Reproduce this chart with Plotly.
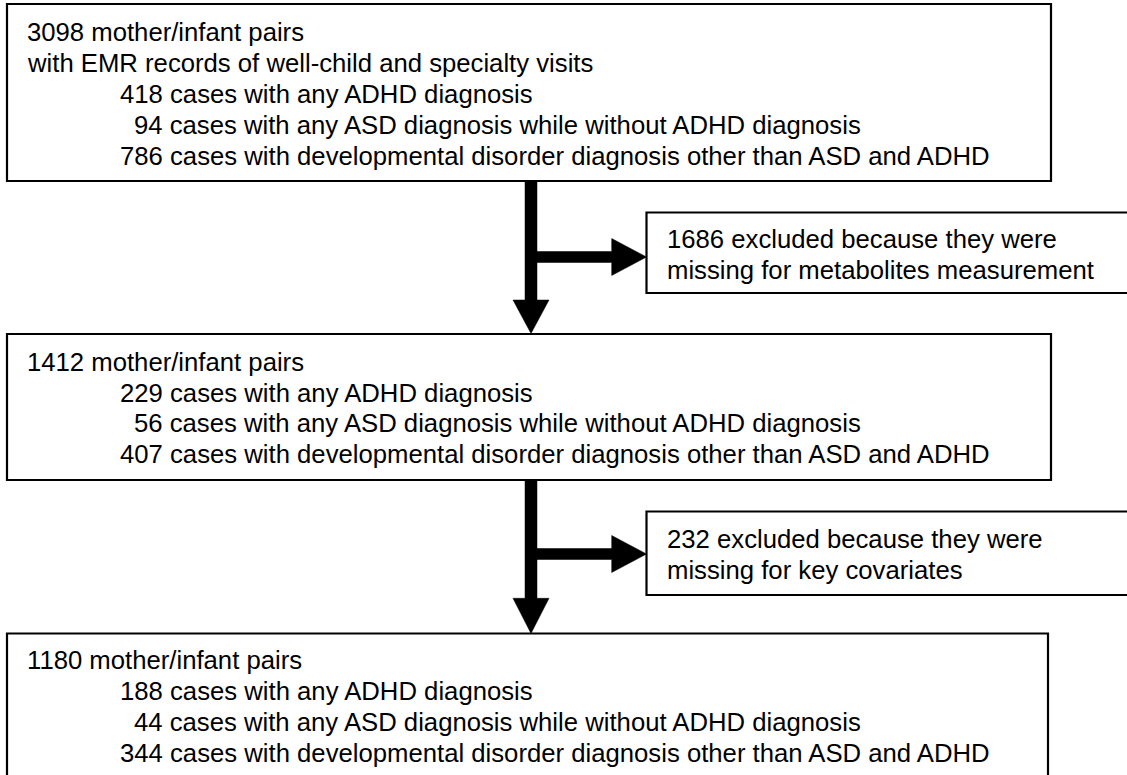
import plotly.graph_objects as go

# ---- text content (data) ----
box1_lines = [
    "3098 mother/infant pairs",
    "with EMR records of well-child and specialty visits",
    "418 cases with any ADHD diagnosis",
    "94 cases with any ASD diagnosis while without ADHD diagnosis",
    "786 cases with developmental disorder diagnosis other than ASD and ADHD",
]
excl1_lines = [
    "1686 excluded because they were",
    "missing for metabolites measurement",
]
box2_lines = [
    "1412 mother/infant pairs",
    "229 cases with any ADHD diagnosis",
    "56 cases with any ASD diagnosis while without ADHD diagnosis",
    "407 cases with developmental disorder diagnosis other than ASD and ADHD",
]
excl2_lines = [
    "232 excluded because they were",
    "missing for key covariates",
]
box3_lines = [
    "1180 mother/infant pairs",
    "188 cases with any ADHD diagnosis",
    "44 cases with any ASD diagnosis while without ADHD diagnosis",
    "344 cases with developmental disorder diagnosis other than ASD and ADHD",
]

W, H = 1127, 775
FONT = dict(family="Liberation Sans, Arial, sans-serif", size=25.7, color="black")
LW = 2.2

fig = go.Figure()
shapes = []
annotations = []


def rect(x0, y0, x1, y1):
    shapes.append(dict(type="rect", xref="x", yref="y", x0=x0, y0=y0, x1=x1, y1=y1,
                       line=dict(color="black", width=LW), fillcolor="rgba(0,0,0,0)"))


def open_path(d):
    shapes.append(dict(type="path", xref="x", yref="y", path=d,
                       line=dict(color="black", width=LW), fillcolor="rgba(0,0,0,0)"))


def filled(d):
    shapes.append(dict(type="path", xref="x", yref="y", path=d,
                       line=dict(color="black", width=0.5), fillcolor="black"))


def text_lines(lines, xs, ys):
    for t, x, y in zip(lines, xs, ys):
        annotations.append(dict(text=t, x=x, y=y, xref="x", yref="y", showarrow=False,
                                xanchor="left", yanchor="middle", font=FONT))


def indent_x(line, base=24.5, indent=118, digit=14.3):
    if line[0].isdigit() and "pairs" not in line:
        n = len(line.split(" ")[0])
        return indent + (3 - n) * digit
    return base


# main boxes
rect(7, 4, 1051, 181)
rect(7, 334, 1051, 480)
open_path("M 7,800 V 633.5 H 1048 V 800")
# exclusion boxes (open to the right edge)
open_path("M 1140,212.5 H 646.5 V 293 H 1140")
open_path("M 1140,511.5 H 646.5 V 595 H 1140")

# arrows
cx = 531
for (ytop, yhead, ytip, hy) in [(181, 300, 333.5, 257), (480, 598.3, 633.5, 554)]:
    filled(f"M {cx-6},{ytop} L {cx+6},{ytop} L {cx+6},{yhead} L {cx+18},{yhead} "
           f"L {cx},{ytip} L {cx-18},{yhead} L {cx-6},{yhead} Z")
    filled(f"M {cx+6},{hy-5.5} L 611.7,{hy-5.5} L 611.7,{hy-18.5} L 646.5,{hy} "
           f"L 611.7,{hy+18.5} L 611.7,{hy+5.5} L {cx+6},{hy+5.5} Z")

text_lines(box1_lines, [indent_x(l) for l in box1_lines], [31.5, 62.5, 93.5, 124.5, 155.5])
text_lines(box2_lines, [indent_x(l) for l in box2_lines], [362, 392.5, 423, 453.5])
text_lines(box3_lines, [indent_x(l) for l in box3_lines], [660, 691, 722, 753])
text_lines(excl1_lines, [664.5, 664.5], [239, 270])
text_lines(excl2_lines, [664.5, 664.5], [539, 569.5])

fig.update_layout(
    width=W, height=H,
    margin=dict(l=0, r=0, t=0, b=0),
    paper_bgcolor="white", plot_bgcolor="white",
    xaxis=dict(range=[0, W], visible=False, fixedrange=True),
    yaxis=dict(range=[H, 0], visible=False, fixedrange=True),
    shapes=shapes, annotations=annotations,
    showlegend=False,
)

fig.write_html("out.html", config={"displayModeBar": False},
               post_script="document.body.style.margin='0';document.body.style.overflow='hidden';")
